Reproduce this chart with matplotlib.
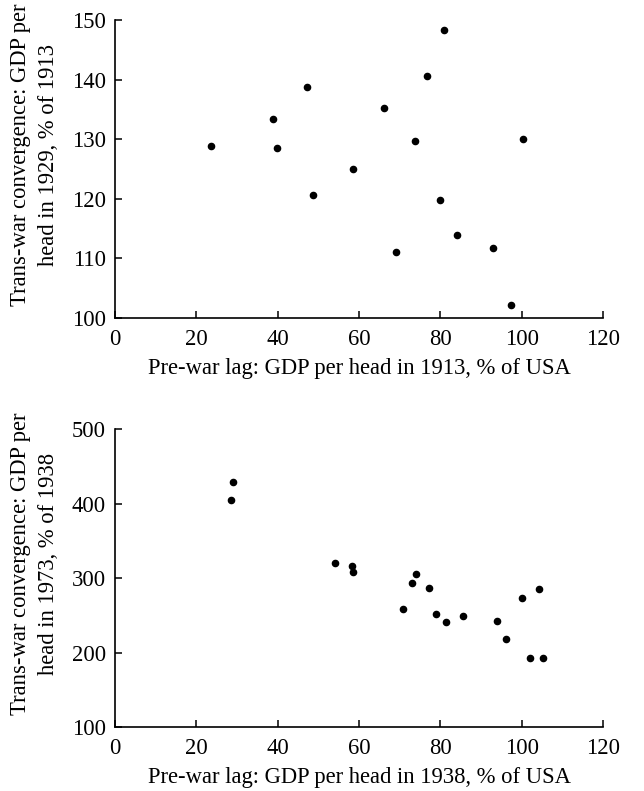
import matplotlib
matplotlib.use("Agg")
import matplotlib.pyplot as plt

# 1913 -> 1929
lag_1913 = [23.7, 38.9, 39.9, 47.3, 48.6, 58.5, 66.0, 69.0, 73.8, 76.6, 80.8, 79.9, 84.0, 93.0, 97.3, 100.3]
conv_1929 = [128.8, 133.4, 128.6, 138.8, 120.7, 125.0, 135.3, 111.1, 129.7, 140.6, 148.4, 119.8, 113.9, 111.7, 102.1, 130.1]

# 1938 -> 1973
lag_1938 = [28.4, 29.0, 54.0, 58.2, 58.6, 70.8, 72.9, 74.1, 77.1, 78.9, 81.3, 85.6, 93.9, 96.1, 100.0, 102.1, 104.3, 105.3]
conv_1973 = [404.3, 428.4, 320.6, 315.7, 308.5, 258.8, 293.3, 305.4, 286.6, 252.1, 240.5, 248.5, 241.8, 218.1, 272.7, 192.2, 284.8, 192.2]

plt.rcParams['font.family'] = ['Liberation Serif', 'DejaVu Serif']
FS = 16.3

fig = plt.figure(figsize=(6.44, 7.91), dpi=100)
ax1 = fig.add_axes([0.1786, 0.598, 0.758, 0.3767])
ax2 = fig.add_axes([0.1786, 0.0809, 0.758, 0.3767])

def style(ax, ylim, ystep, xlabel, ylabel):
    ax.set_xlim(0, 120)
    ax.set_ylim(*ylim)
    ax.set_xticks(range(0, 121, 20))
    ax.set_yticks(range(ylim[0], ylim[1] + 1, ystep))
    for s in ("top", "right"):
        ax.spines[s].set_visible(False)
    ax.spines["left"].set_linewidth(1.2)
    ax.spines["bottom"].set_linewidth(1.2)
    ax.tick_params(direction="in", length=5, width=1.1, labelsize=FS)
    ax.tick_params(axis="x", pad=8)
    ax.tick_params(axis="y", pad=6.5)
    ax.set_xlabel(xlabel, fontsize=FS, labelpad=6)
    ax.set_ylabel(ylabel, fontsize=FS, linespacing=1.4)
    ax.yaxis.set_label_coords(-0.115, 0.548)

ax1.scatter(lag_1913, conv_1929, s=20, c="black", clip_on=False, zorder=3)
style(ax1, (100, 150), 10,
      "Pre-war lag: GDP per head in 1913, % of USA",
      "Trans-war convergence: GDP per\nhead in 1929, % of 1913")

ax2.scatter(lag_1938, conv_1973, s=20, c="black", clip_on=False, zorder=3)
style(ax2, (100, 500), 100,
      "Pre-war lag: GDP per head in 1938, % of USA",
      "Trans-war convergence: GDP per\nhead in 1973, % of 1938")

fig.savefig("out.png", dpi=100)
